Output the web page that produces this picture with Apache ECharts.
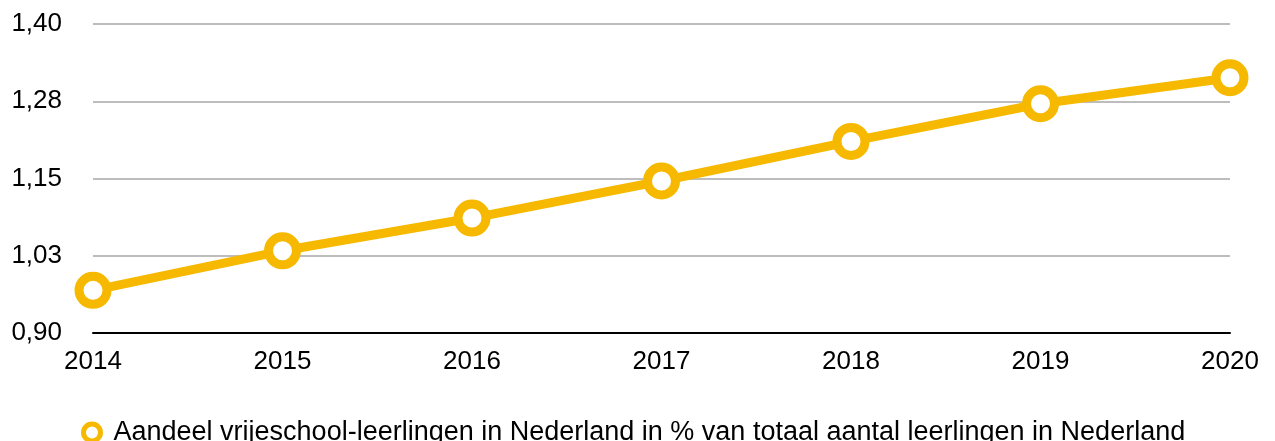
<!DOCTYPE html>
<html>
<head>
<meta charset="utf-8">
<script src="https://cdn.jsdelivr.net/npm/echarts@6/dist/echarts.min.js"></script>
<style>
html, body { margin: 0; padding: 0; background: #fff; }
#chart { width: 1275px; height: 441px; }
</style>
</head>
<body>
<div id="chart"></div>
<script>
// jaren en aandeel (%)
const years = ['2014', '2015', '2016', '2017', '2018', '2019', '2020']
const aandeel = [0.969, 1.033, 1.086, 1.146, 1.210, 1.271, 1.313]
const yTickLabels = ['0,90', '1,03', '1,15', '1,28', '1,40']
const seriesName = 'Aandeel vrijeschool-leerlingen in Nederland in % van totaal aantal leerlingen in Nederland'

const YELLOW = '#F6B900'
const FONT = '"Liberation Sans", Arial, Helvetica, sans-serif'

let chart = echarts.init(document.getElementById('chart'))
chart.setOption({
  animation: false,
  grid: { left: 93, right: 45, top: 24, bottom: 108 },
  legend: {
    top: 414,
    left: 76,
    icon: 'circle',
    itemWidth: 17,
    itemHeight: 17,
    itemStyle: { color: '#fff', borderColor: YELLOW, borderWidth: 5 },
    textStyle: { fontFamily: FONT, fontSize: 27, color: '#000', padding: [0, 0, 0, 8] },
    data: [seriesName]
  },
  xAxis: {
    type: 'category',
    data: years,
    boundaryGap: false,
    axisLine: { lineStyle: { color: '#000', width: 2 } },
    axisTick: { show: false },
    axisLabel: { fontFamily: FONT, fontSize: 26, color: '#000', margin: 16 }
  },
  yAxis: {
    type: 'value',
    min: 0.9,
    max: 1.4,
    interval: 0.125,
    axisLine: { show: false },
    axisTick: { show: false },
    splitLine: { lineStyle: { color: '#BDBDBD', width: 2 } },
    axisLabel: {
      fontFamily: FONT, fontSize: 26, color: '#000', margin: 31,
      formatter: (v, i) => yTickLabels[i]
    }
  },
  series: [{
    name: seriesName,
    type: 'line',
    data: aandeel,
    symbol: 'circle',
    symbolSize: 28,
    lineStyle: { color: YELLOW, width: 9 },
    itemStyle: { color: '#fff', borderColor: YELLOW, borderWidth: 9 }
  }]
})
</script>
</body>
</html>
